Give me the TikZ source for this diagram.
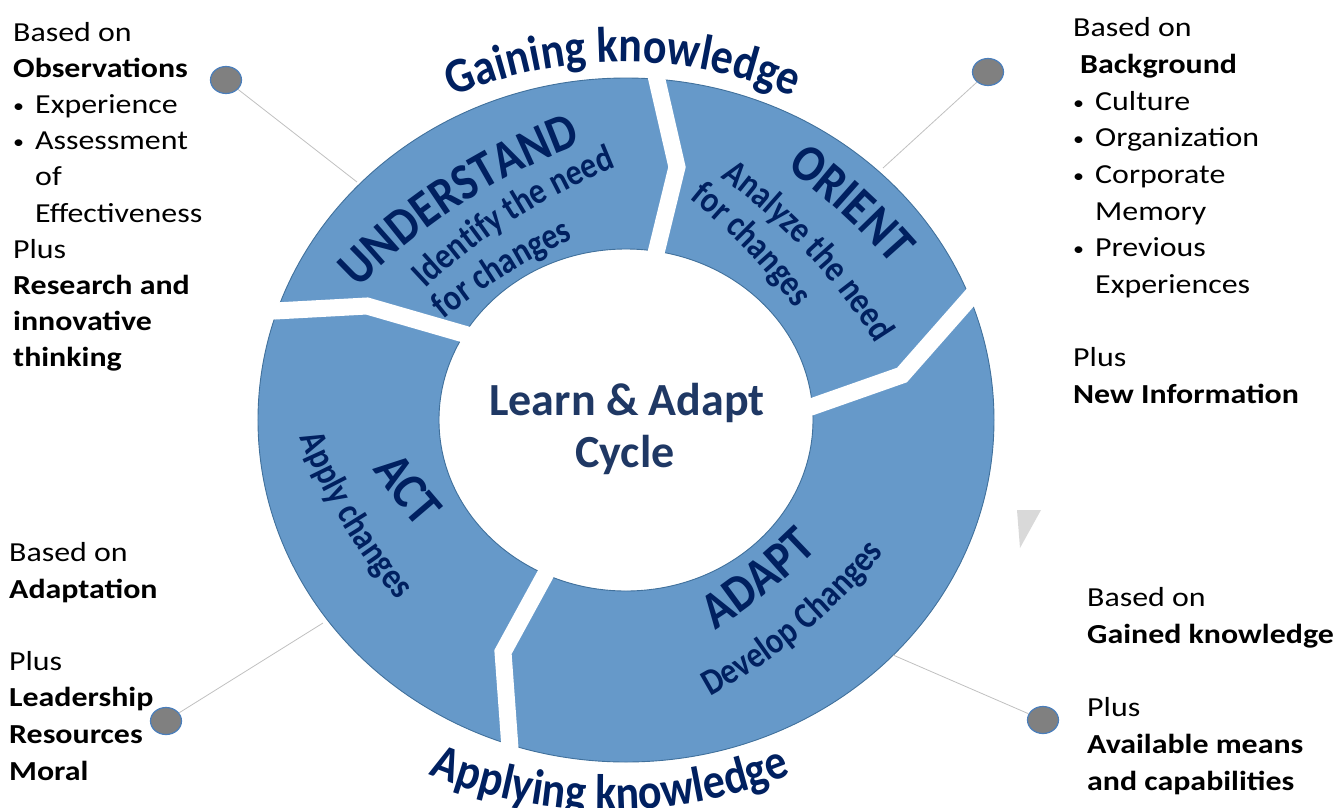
\documentclass[tikz,border=0pt]{standalone}
\usepackage{fontspec}
\setmainfont{Carlito}
\newfontfamily\sidefont{Carlito}[FakeStretch=1.16]
\newfontfamily\segfont{Carlito}[FakeStretch=0.88]
\newfontfamily\subfam{Carlito}[FakeStretch=0.86]
\usetikzlibrary{decorations.text,shapes.geometric}
\definecolor{ringblue}{HTML}{6699C9}
\definecolor{ringedge}{HTML}{41719C}
\definecolor{navy}{HTML}{002060}
\definecolor{centertext}{HTML}{1F3864}
\definecolor{dotgrey}{HTML}{808080}
\definecolor{dotedge}{HTML}{4A7EBB}
\definecolor{leadgrey}{HTML}{C0C0C0}
\definecolor{trigrey}{HTML}{D9D9D9}
% text along a clockwise arc (centre of curvature right of the reading direction)
\newcommand\cwtext[6]{%
  \path[decorate,decoration={text along path,text align=center,text={|#1|#6}}]
    ({#2+#5*cos(#4-90)+#5*cos(#4+115)},{#3+#5*sin(#4-90)+#5*sin(#4+115)})
    arc[start angle={#4+115},end angle={#4+65},radius=#5];}
% text along a counter-clockwise arc (centre of curvature left of the reading direction)
\newcommand\ccwtext[6]{%
  \path[decorate,decoration={text along path,text align=center,text={|#1|#6}}]
    ({#2+#5*cos(#4+90)+#5*cos(#4-115)},{#3+#5*sin(#4+90)+#5*sin(#4-115)})
    arc[start angle={#4-115},end angle={#4-65},radius=#5];}
\newcommand\sline[4]{\node[sidetxt] (#1) at ({#2-626},{420-#3}) {#4};}
\newcommand\blt{\makebox[22pt][l]{\raisebox{1pt}{\fontsize{19}{19}\selectfont •}}}
\newcommand\titlefont{\segfont\fontsize{52}{60}\selectfont\bfseries\color{navy}}
\newcommand\subfont{\subfam\fontsize{37}{44}\selectfont\bfseries\color{navy}}
\newcommand\arcfont{\segfont\fontsize{50}{58}\selectfont\bfseries\color{navy}}
\begin{document}
\begin{tikzpicture}[x=1pt,y=1pt,
  sidetxt/.style={anchor=base west,inner sep=0pt,font=\sidefont\fontsize{27.5}{33}\selectfont,text=black},
  gapline/.style={draw=white,line width=17pt,line join=miter},
  leadline/.style={draw=leadgrey,line width=0.8pt},
  dotnode/.style={ellipse,draw=dotedge,fill=dotgrey,line width=1.2pt,minimum width=31pt,minimum height=27pt,inner sep=0pt},
  centre/.style={anchor=base,inner sep=0pt,font=\fontsize{46}{54}\selectfont\bfseries,text=centertext}]
\useasboundingbox (-626,-387) rectangle (712,420);
% ring
\fill[ringblue,even odd rule] (0,0) ellipse[x radius=368,y radius=342] (0,0) ellipse[x radius=187,y radius=171];
\draw[ringedge,line width=0.9pt] (0,0) ellipse[x radius=368,y radius=342];
\draw[ringedge,line width=0.9pt] (0,0) ellipse[x radius=187,y radius=171];
% gaps
\coordinate (g1a) at (27,357); \coordinate (g1b) at (31,340); \coordinate (g1c) at (51,253); \coordinate (g1d) at (30,167); \coordinate (g1e) at (26,150);
\coordinate (g2a) at (356,136); \coordinate (g2b) at (343,121); \coordinate (g2c) at (276,45); \coordinate (g2d) at (185,13); \coordinate (g2e) at (171,8);
\coordinate (g3a) at (-370,110); \coordinate (g3b) at (-351,109); \coordinate (g3c) at (-259,114); \coordinate (g3d) at (-162,86); \coordinate (g3e) at (-148,82);
\coordinate (g4a) at (-74,-142); \coordinate (g4b) at (-82,-157); \coordinate (g4c) at (-123,-232); \coordinate (g4d) at (-116,-328); \coordinate (g4e) at (-115,-345);
\draw[gapline] (g1a) -- (g1b) -- (g1c) -- (g1d) -- (g1e);
\draw[gapline] (g2a) -- (g2b) -- (g2c) -- (g2d) -- (g2e);
\draw[gapline] (g3a) -- (g3b) -- (g3c) -- (g3d) -- (g3e);
\draw[gapline] (g4a) -- (g4b) -- (g4c) -- (g4d) -- (g4e);
% callout dots and leader lines
\node[dotnode] (dtl) at (-400,340) {};
\node[dotnode] (dtr) at (362,348) {};
\node[dotnode] (dbl) at (-460,-301) {};
\node[dotnode] (dbr) at (417,-300) {};
\coordinate (etl) at (-269,238);
\coordinate (etr) at (257,252);
\coordinate (ebl) at (-303,-203);
\coordinate (ebr) at (267,-235);
\draw[leadline] (etl) -- (dtl);
\draw[leadline] (etr) -- (dtr);
\draw[leadline] (ebl) -- (dbl);
\draw[leadline] (ebr) -- (dbr);
% small grey triangle
\fill[trigrey] (391,-90) -- (415,-90) -- (394,-128) -- cycle;
% segment texts
\cwtext{\titlefont}{-164}{216}{33}{600}{UNDERSTAND}
\cwtext{\subfont}{-111}{201}{32.5}{600}{Identify the need}
\cwtext{\subfont}{-120}{145}{32}{600}{for changes}
\cwtext{\titlefont}{216}{206}{-42.4}{600}{ORIENT}
\cwtext{\subfont}{180}{167}{-47}{600}{Analyze the need}
\cwtext{\subfont}{120}{170}{-46}{600}{for changes}
\ccwtext{\titlefont}{-231.5}{-79.5}{-52}{600}{ACT}
\ccwtext{\subfont}{-284}{-103}{-59}{600}{Apply changes}
\ccwtext{\titlefont}{143}{-172}{38.5}{600}{ADAPT}
\ccwtext{\subfont}{178}{-213}{39.6}{600}{Develop Changes}
% arc headings
\path[decorate,decoration={text along path,text align=center,
  text={|\arcfont|Gaining knowledge}}]
  ([shift={(130:430)}]-3,-72) arc[start angle=130,end angle=50,radius=430];
\path[decorate,decoration={text along path,text align=center,
  text={|\arcfont|Applying knowledge}}]
  ([shift={(230:480)}]-16,90) arc[start angle=230,end angle=310,radius=480];
% centre
\node[centre] (title1) at (1,5) {Learn \& Adapt};
\node[centre] (title2) at (-1,-47) {Cycle};
% side texts
\sline{tl1}{13}{41.5}{Based on}
\sline{tl2}{13}{77.6}{\bfseries Observations}
\sline{tl3}{13}{113.7}{\blt Experience}
\sline{tl4}{13}{149.8}{\blt Assessment}
\sline{tl5}{35}{185.9}{of}
\sline{tl6}{35}{222}{Effectiveness}
\sline{tl7}{13}{258.1}{Plus}
\sline{tl8}{13}{294.2}{\bfseries Research and}
\sline{tl9}{13}{330.3}{\bfseries innovative}
\sline{tl10}{13}{366.4}{\bfseries thinking}
\sline{tr1}{1073}{36.7}{Based on}
\sline{tr2}{1080}{73.3}{\bfseries Background}
\sline{tr3}{1073}{110}{\blt Culture}
\sline{tr4}{1073}{146.7}{\blt Organization}
\sline{tr5}{1073}{183}{\blt Corporate}
\sline{tr6}{1095}{220}{Memory}
\sline{tr7}{1073}{256.7}{\blt Previous}
\sline{tr8}{1095}{293}{Experiences}
\sline{tr9}{1073}{366.7}{Plus}
\sline{tr10}{1073}{403}{\bfseries New Information}
\sline{bl1}{9}{561.7}{Based on}
\sline{bl2}{9}{598.3}{\bfseries Adaptation}
\sline{bl3}{9}{670}{Plus}
\sline{bl4}{9}{706.7}{\bfseries Leadership}
\sline{bl5}{9}{743.3}{\bfseries Resources}
\sline{bl6}{9}{780}{\bfseries Moral}
\sline{br1}{1087}{606.7}{Based on}
\sline{br2}{1087}{643.3}{\bfseries Gained knowledge}
\sline{br3}{1087}{716.7}{Plus}
\sline{br4}{1087}{753.3}{\bfseries Available means}
\sline{br5}{1087}{790}{\bfseries and capabilities}
\end{tikzpicture}
\end{document}
